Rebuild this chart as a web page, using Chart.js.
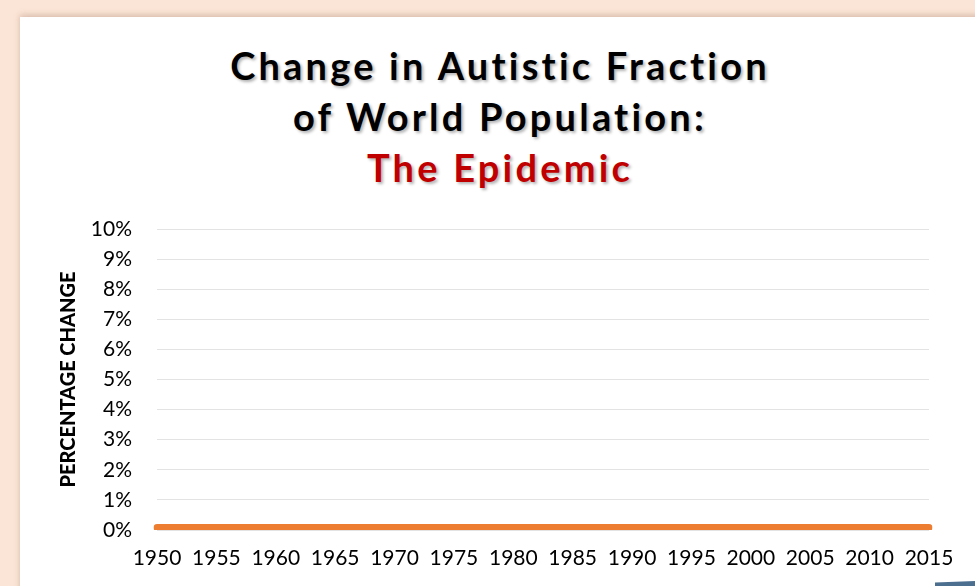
<!DOCTYPE html>
<html>
<head>
<meta charset="utf-8">
<script src="https://cdn.jsdelivr.net/npm/chart.js@4"></script>
<style>
  html, body { margin: 0; padding: 0; }
  body { width: 975px; height: 586px; background: #fbe5d6; position: relative; overflow: hidden; }
  .card { position: absolute; left: 20px; top: 17px; width: 1000px; height: 600px; background: #fff;
          box-shadow: 0 -2px 6px rgba(150, 110, 90, 0.35); }
  .title { position: absolute; left: 0; top: 40px; width: 1000px; text-align: center;
           font-family: Lato, "Open Sans", sans-serif; font-weight: 700; font-size: 38px;
           letter-spacing: 3.2px; line-height: 51px; color: #000;
           text-shadow: 2px 2px 3px rgba(0, 0, 0, 0.3); }
  .title .red { color: #c00000; }
  #wrap { position: absolute; left: 0; top: 0; width: 975px; height: 586px; }
  .arrow { position: absolute; left: 935px; top: 581px; width: 40px; height: 5px; background: #4d6f8f;
           clip-path: polygon(0 30%, 100% 0, 100% 100%, 0 100%); }
</style>
</head>
<body>
<div class="card"></div>
<div class="title">Change in Autistic Fraction<br>of World Population:<br><span class="red">The Epidemic</span></div>
<div id="wrap"><canvas id="chart" width="975" height="586"></canvas></div>
<div class="arrow"></div>
<script>
const years = ['1950', '1955', '1960', '1965', '1970', '1975', '1980', '1985', '1990', '1995', '2000', '2005', '2010', '2015']
const percentChange = [0.08, 0.08, 0.08, 0.08, 0.08, 0.08, 0.08, 0.08, 0.08, 0.08, 0.08, 0.08, 0.08, 0.08]
const yTicks = [0, 1, 2, 3, 4, 5, 6, 7, 8, 9, 10]

const tickFont = { family: 'Lato, "Open Sans", sans-serif', size: 21 }

new Chart(document.getElementById('chart'), {
    type: 'line',
    data: {
        labels: years,
        datasets: [{
            data: percentChange,
            borderColor: '#ed7d31',
            borderWidth: 7,
            borderCapStyle: 'round',
            pointRadius: 0,
            tension: 0
        }]
    },
    options: {
        responsive: false,
        animation: false,
        layout: { padding: { top: 229, left: 57, right: 46, bottom: 0 } },
        plugins: { legend: { display: false }, tooltip: { enabled: false } },
        scales: {
            x: {
                afterFit: axis => { axis.height = 56 },
                grid: { display: false, drawTicks: false },
                border: { display: false },
                ticks: { color: '#000', font: tickFont, maxRotation: 0, autoSkip: false, padding: 16 }
            },
            y: {
                min: 0,
                max: 10,
                afterFit: axis => { axis.width = 100 },
                afterBuildTicks: axis => { axis.ticks = yTicks.map(v => ({ value: v })) },
                grid: { color: '#e3e3e3', lineWidth: 1, drawTicks: false },
                border: { display: false },
                ticks: { color: '#000', font: tickFont, padding: 25, callback: v => v + '%' },
                title: {
                    display: true,
                    text: 'PERCENTAGE CHANGE',
                    color: '#000',
                    font: { family: 'Lato, "Open Sans", sans-serif', size: 20, weight: 900 },
                    padding: 0
                }
            }
        }
    }
})
</script>
</body>
</html>
